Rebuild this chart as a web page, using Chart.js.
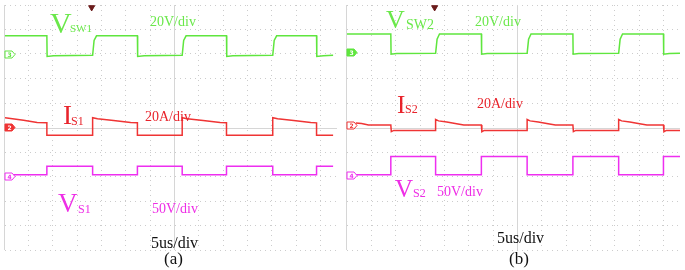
<!DOCTYPE html>
<html>
<head>
<meta charset="utf-8">
<script src="https://cdn.jsdelivr.net/npm/chart.js@4.4.1/dist/chart.umd.min.js"></script>
<style>
  body { margin: 0; background: #fff; }
  #wrap { position: relative; width: 685px; height: 270px; overflow: hidden; }
  canvas { position: absolute; top: 0; }
  .lbl { position: absolute; font-family: "Liberation Serif", "Times New Roman", serif; line-height: 1; white-space: nowrap; }
  .g { color: #6ae84a; }
  .r { color: #e8232b; }
  .m { color: #ee2ee6; }
  .k { color: #111; }
</style>
</head>
<body>
<div id="wrap">
  <canvas id="scopeA" width="342" height="270" style="left:0"></canvas>
  <canvas id="scopeB" width="343" height="270" style="left:342px"></canvas>

  <!-- panel (a) -->
  <span class="lbl g" style="left:50px;top:8px;font-size:30px">V</span>
  <span class="lbl g" style="left:70px;top:23px;font-size:11px">SW1</span>
  <span class="lbl g" style="left:150px;top:15px;font-size:14px">20V/div</span>
  <span class="lbl r" style="left:63px;top:102px;font-size:27px">I</span>
  <span class="lbl r" style="left:71px;top:115px;font-size:12px">S1</span>
  <span class="lbl r" style="left:145px;top:110px;font-size:14px">20A/div</span>
  <span class="lbl m" style="left:58px;top:190px;font-size:27px">V</span>
  <span class="lbl m" style="left:78px;top:203px;font-size:12px">S1</span>
  <span class="lbl m" style="left:152px;top:202px;font-size:14px">50V/div</span>
  <span class="lbl k" style="left:151px;top:235px;font-size:16px">5us/div</span>
  <span class="lbl k" style="left:164px;top:250px;font-size:17px">(a)</span>

  <!-- panel (b) -->
  <span class="lbl g" style="left:386px;top:7px;font-size:26px">V</span>
  <span class="lbl g" style="left:406px;top:18px;font-size:14px">SW2</span>
  <span class="lbl g" style="left:475px;top:15px;font-size:14px">20V/div</span>
  <span class="lbl r" style="left:397px;top:92px;font-size:25px">I</span>
  <span class="lbl r" style="left:405px;top:103px;font-size:12px">S2</span>
  <span class="lbl r" style="left:477px;top:97px;font-size:14px">20A/div</span>
  <span class="lbl m" style="left:395px;top:176px;font-size:25px">V</span>
  <span class="lbl m" style="left:413px;top:187px;font-size:12px">S2</span>
  <span class="lbl m" style="left:437px;top:185px;font-size:14px">50V/div</span>
  <span class="lbl k" style="left:497px;top:230px;font-size:16px">5us/div</span>
  <span class="lbl k" style="left:509px;top:250px;font-size:17px">(b)</span>
</div>

<script>
// time in us (5 us/div), level in screen divisions from centre line
const vsw1 = [[-34.8,3.74],[-26.2,3.74],[-26.15,2.90],[-24.8,2.93],[-16.8,2.95],[-16.5,3.55],[-16.0,3.74],
  [-7.6,3.74],[-7.55,2.90],[-6.2,2.93],[1.6,2.95],[1.9,3.55],[2.4,3.74],
  [10.7,3.74],[10.75,2.90],[12.0,2.93],[20.2,2.95],[20.5,3.55],[21.0,3.74],
  [29.2,3.74],[29.25,2.90],[30.6,2.93],[32.6,2.95]];

const is1 = [[-34.8,0.40],[-31.0,0.30],[-28.2,0.20],[-26.2,0.19],[-26.2,-0.32],[-16.8,-0.32],
  [-16.8,0.40],[-15.8,0.36],[-12.5,0.29],[-9.0,0.20],[-7.6,0.19],[-7.6,-0.32],[1.6,-0.32],
  [1.6,0.40],[2.6,0.36],[5.9,0.29],[9.4,0.20],[10.7,0.19],[10.7,-0.32],[20.2,-0.32],
  [20.2,0.40],[21.2,0.36],[24.5,0.29],[28.0,0.20],[29.2,0.19],[29.2,-0.32],[32.6,-0.32]];

const vs1 = [[-34.8,-1.93],[-26.2,-1.93],[-26.2,-1.58],[-16.8,-1.58],[-16.8,-1.93],[-7.6,-1.93],
  [-7.6,-1.58],[1.6,-1.58],[1.6,-1.93],[10.7,-1.93],[10.7,-1.58],[20.2,-1.58],[20.2,-1.93],
  [29.2,-1.93],[29.2,-1.58],[32.6,-1.58]];

const vsw2 = [[-35.0,3.82],[-26.0,3.82],[-25.95,2.99],[-24.8,3.02],[-16.8,3.03],[-16.5,3.60],[-16.0,3.82],
  [-7.4,3.82],[-7.35,2.99],[-6.2,3.02],[2.0,3.03],[2.3,3.60],[2.8,3.82],
  [11.4,3.82],[11.45,2.99],[12.6,3.02],[20.8,3.03],[21.1,3.60],[21.6,3.82],
  [30.0,3.82],[30.05,2.99],[31.2,3.02],[33.4,3.03]];

const is2 = [[-33.2,0.18],[-32.0,0.16],[-30.6,0.10],[-26.0,0.10],[-25.9,-0.17],[-25.4,-0.12],[-16.8,-0.12],
  [-16.8,0.33],[-16.2,0.27],[-14.5,0.22],[-12.2,0.14],[-11.0,0.10],[-7.4,0.10],[-7.3,-0.17],[-6.8,-0.12],
  [2.0,-0.12],[2.0,0.33],[2.6,0.27],[4.3,0.22],[6.6,0.14],[7.8,0.10],[11.4,0.10],[11.5,-0.17],[12.0,-0.12],
  [20.8,-0.12],[20.8,0.33],[21.4,0.27],[23.1,0.22],[25.4,0.14],[26.6,0.10],[30.0,0.10],[30.1,-0.17],
  [30.6,-0.12],[33.4,-0.12]];

const vs2 = [[-35.0,-1.93],[-26.0,-1.93],[-26.0,-1.18],[-16.8,-1.18],[-16.8,-1.93],[-7.4,-1.93],
  [-7.4,-1.18],[2.0,-1.18],[2.0,-1.93],[11.4,-1.93],[11.4,-1.18],[20.8,-1.18],[20.8,-1.93],
  [30.0,-1.93],[30.0,-1.18],[33.4,-1.18]];

// channel ground markers (ch 3, 2, 4) and trigger position
const chNames = ['3', '2', '4'];
const gndA = [3.00, 0.02, -1.96];
const gndB = [3.08, 0.09, -1.93];
const filledA = [false, true, false];
const filledB = [true, false, false];
const trigT = -17;
const trigLevel = 4.9;

const GREEN = '#5fe63e';
const RED = '#ef3434';
const MAGENTA = '#ee2ef0';
const chColors = [GREEN, RED, MAGENTA];

const toXY = arr => arr.map(p => ({ x: p[0], y: p[1] }));

const scopeFrame = {
  id: 'scopeFrame',
  beforeDatasetsDraw(chart) {
    const { ctx, chartArea: a, scales } = chart;
    ctx.save();
    ctx.strokeStyle = '#d6d6d6';
    ctx.lineWidth = 1;
    const x0 = Math.round(scales.x.getPixelForValue(0)) + 0.5;
    const y0 = Math.round(scales.y.getPixelForValue(0)) + 0.5;
    ctx.beginPath();
    ctx.moveTo(x0, a.top); ctx.lineTo(x0, a.bottom);
    ctx.moveTo(a.left, y0); ctx.lineTo(a.right, y0);
    ctx.moveTo(a.left - 0.5, a.top); ctx.lineTo(a.left - 0.5, a.bottom);
    ctx.stroke();
    ctx.restore();
  },
  afterDatasetsDraw(chart, args, opts) {
    const { ctx, chartArea: a, scales } = chart;
    ctx.save();
    opts.levels.forEach((lv, i) => {
      const y = Math.round(scales.y.getPixelForValue(lv)) + 0.5;
      const x = a.left;
      ctx.beginPath();
      ctx.moveTo(x, y - 3.5);
      ctx.lineTo(x + 7, y - 3.5);
      ctx.lineTo(x + 10, y);
      ctx.lineTo(x + 7, y + 3.5);
      ctx.lineTo(x, y + 3.5);
      ctx.closePath();
      ctx.fillStyle = opts.filled[i] ? chColors[i] : '#fff';
      ctx.fill();
      ctx.strokeStyle = chColors[i];
      ctx.lineWidth = 1;
      ctx.stroke();
      ctx.fillStyle = opts.filled[i] ? '#fff' : chColors[i];
      ctx.font = 'bold 6px "DejaVu Sans"';
      ctx.textAlign = 'center';
      ctx.textBaseline = 'middle';
      ctx.fillText(chNames[i], x + 4.5, y + 0.5);
    });
    ctx.restore();
  }
};

function scopeChart(id, xmin, xmax, traces, levels, filled) {
  const datasets = traces.map((t, i) => ({
    data: toXY(t),
    borderColor: chColors[i],
    borderWidth: 1.5,
    pointRadius: 0,
    tension: 0
  }));
  datasets.push({
    data: [{ x: trigT, y: trigLevel }],
    showLine: false,
    pointStyle: 'triangle',
    rotation: 180,
    pointRadius: 3.5,
    pointBackgroundColor: '#6b1c1c',
    pointBorderColor: '#6b1c1c'
  });
  return new Chart(document.getElementById(id), {
    type: 'line',
    data: { datasets },
    options: {
      responsive: false,
      animation: false,
      devicePixelRatio: 1,
      layout: { padding: { left: 1, right: 0, top: 2, bottom: 20 } },
      plugins: {
        legend: { display: false },
        tooltip: { enabled: false },
        scopeFrame: { levels, filled }
      },
      scales: {
        x: {
          type: 'linear', min: xmin, max: xmax,
          afterBuildTicks: s => { s.ticks = [-30,-25,-20,-15,-10,-5,5,10,15,20,25,30].map(v => ({ value: v })); },
          ticks: { display: false },
          grid: { color: '#cccccc', drawTicks: false },
          border: { display: false, dash: [1, 4] }
        },
        y: {
          type: 'linear', min: -5, max: 5,
          afterBuildTicks: s => { s.ticks = [-5,-4,-3,-2,-1,1,2,3,4,5].map(v => ({ value: v })); },
          ticks: { display: false },
          grid: { color: '#cccccc', drawTicks: false },
          border: { display: false, dash: [1, 4] }
        }
      }
    },
    plugins: [scopeFrame]
  });
}

scopeChart('scopeA', -34.8, 33.4, [vsw1, is1, vs1], gndA, filledA);
scopeChart('scopeB', -35.0, 33.4, [vsw2, is2, vs2], gndB, filledB);
</script>
</body>
</html>
